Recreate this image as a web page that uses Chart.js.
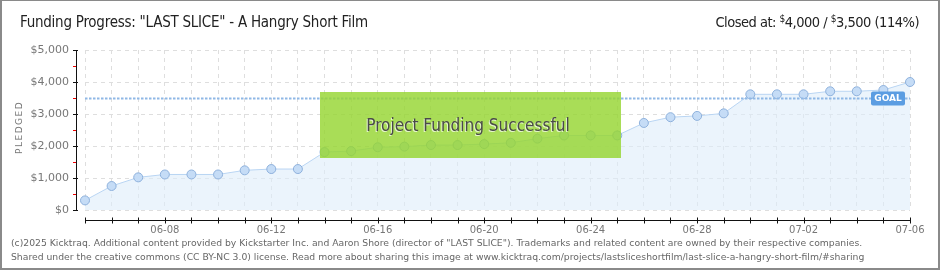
<!DOCTYPE html>
<html>
  <head>
    <title>Funding Progress</title>
    <script src="https://cdn.jsdelivr.net/npm/chart.js"></script>
    <style>
      body { margin: 0; background: #fff; }
      #wrap { position: relative; width: 940px; height: 270px; box-sizing: border-box; overflow: hidden;
              border-left: 2px solid #8a8a8a; border-top: 1px solid #8a8a8a; border-right: 2px solid #8a8a8a; border-bottom: 2px solid #8a8a8a; }
      canvas { position: absolute; left: -2px; top: -1px; }
      .txt { position: absolute; white-space: nowrap; color: #222; }
      #title { left: 18px; top: 12px; font: 15px "DejaVu Sans Condensed", sans-serif; letter-spacing: -0.25px; }
      #closed { right: 19px; top: 12px; font: 14.5px "DejaVu Sans Condensed", sans-serif; letter-spacing: -0.5px; }
      #closed sup { font-size: 10px; vertical-align: 5px; }
      #pledged { left: 12px; top: 153px; font: 9px "DejaVu Sans", sans-serif; color: #777; letter-spacing: 1.5px; transform: rotate(-90deg); transform-origin: left top; }
      .foot { left: 9px; font: 9.25px "DejaVu Sans", sans-serif; color: #666; }
    </style>
  </head>
  <body>
    <div id="wrap">
      <canvas id="funding-chart" width="940" height="270"></canvas>
      <div class="txt" id="title">Funding Progress: "LAST SLICE" - A Hangry Short Film</div>
      <div class="txt" id="closed">Closed at: <sup>$</sup>4,000 / <sup>$</sup>3,500 (114%)</div>
      <div class="txt" id="pledged">PLEDGED</div>
      <div class="txt foot" style="top:236px">(c)2025 Kicktraq. Additional content provided by Kickstarter Inc. and Aaron Shore (director of "LAST SLICE"). Trademarks and related content are owned by their respective companies.</div>
      <div class="txt foot" style="top:250px">Shared under the creative commons (CC BY-NC 3.0) license. Read more about sharing this image at www.kicktraq.com/projects/lastsliceshortfilm/last-slice-a-hangry-short-film/#sharing</div>
    </div>

    <script>
      // daily dates and pledged totals
      const days = ['06-05', '06-06', '06-07', '06-08', '06-09', '06-10', '06-11', '06-12', '06-13', '06-14',
                    '06-15', '06-16', '06-17', '06-18', '06-19', '06-20', '06-21', '06-22', '06-23', '06-24',
                    '06-25', '06-26', '06-27', '06-28', '06-29', '06-30', '07-01', '07-02', '07-03', '07-04',
                    '07-05', '07-06'];
      const pledged = [300, 750, 1020, 1110, 1110, 1110, 1240, 1280, 1280, 1810,
                       1840, 1960, 1980, 2030, 2030, 2060, 2100, 2230, 2330, 2330,
                       2330, 2720, 2900, 2940, 3020, 3615, 3615, 3615, 3710, 3710,
                       3750, 4000];
      const yTicks = [0, 1000, 2000, 3000, 4000, 5000];
      const goal = 3500;

      // axes drawn a little away from the plot, like the original
      const offsetAxes = {
        id: 'offsetAxes',
        afterDatasetsDraw(chart) {
          const ctx = chart.ctx;
          const a = chart.chartArea;
          const xs = chart.scales.x, ys = chart.scales.y;
          ctx.save();

          // goal line
          const gy = Math.round(ys.getPixelForValue(goal)) + 0.5;
          ctx.strokeStyle = '#8fb8e6';
          ctx.lineWidth = 2;
          ctx.setLineDash([2.5, 1.5]);
          ctx.beginPath();
          ctx.moveTo(a.left, gy);
          ctx.lineTo(a.right, gy);
          ctx.stroke();
          ctx.setLineDash([]);

          // goal badge
          ctx.fillStyle = '#5b9de2';
          ctx.beginPath();
          ctx.roundRect(a.right - 39, gy - 7, 34, 14, 2);
          ctx.fill();
          ctx.fillStyle = '#fff';
          ctx.font = 'bold 9px "DejaVu Sans"';
          ctx.textAlign = 'center';
          ctx.textBaseline = 'middle';
          ctx.fillText('GOAL', a.right - 22, gy + 0.5);

          // success box
          ctx.fillStyle = 'rgba(150, 214, 50, 0.82)';
          ctx.fillRect(320, 92, 301, 66);
          ctx.font = '17px "DejaVu Sans Condensed"';
          ctx.fillStyle = 'rgba(255,255,255,0.7)';
          ctx.fillText('Project Funding Successful', 467, 128);
          ctx.fillStyle = '#4a4a4a';
          ctx.fillText('Project Funding Successful', 468, 127);

          // y axis
          const ax = 76;
          ctx.strokeStyle = '#111';
          ctx.lineWidth = 1;
          ctx.beginPath();
          ctx.moveTo(ax + 0.5, a.top);
          ctx.lineTo(ax + 0.5, a.bottom + 1);
          yTicks.forEach(v => {
            const y = Math.round(ys.getPixelForValue(v)) + 0.5;
            ctx.moveTo(ax - 3, y);
            ctx.lineTo(ax + 2, y);
          });
          ctx.stroke();
          ctx.strokeStyle = '#e00';
          ctx.beginPath();
          yTicks.slice(1).forEach(v => {
            const y = Math.round(ys.getPixelForValue(v - 500)) + 0.5;
            ctx.moveTo(ax - 3, y);
            ctx.lineTo(ax, y);
          });
          ctx.stroke();

          // x axis
          const by = a.bottom + 10.5;
          ctx.strokeStyle = '#111';
          ctx.beginPath();
          ctx.moveTo(a.left, by);
          ctx.lineTo(a.right + 1, by);
          days.forEach((d, i) => {
            const x = Math.round(xs.getPixelForValue(i)) + 0.5;
            ctx.moveTo(x, by - 3);
            ctx.lineTo(x, by + 3);
          });
          ctx.stroke();
          ctx.restore();
        }
      };

      new Chart(document.getElementById('funding-chart'), {
        type: 'line',
        data: {
          labels: days,
          datasets: [{
            data: pledged,
            borderColor: '#b9d5f3',
            borderWidth: 1,
            backgroundColor: 'rgba(222, 236, 250, 0.6)',
            fill: 'origin',
            tension: 0,
            pointRadius: 4.5,
            pointBackgroundColor: '#c5dcf6',
            pointBorderColor: '#8eb1dc',
            pointBorderWidth: 1,
          }],
        },
        options: {
          responsive: false,
          animation: false,
          layout: { padding: { top: 50, right: 30, left: 0, bottom: 0 } },
          plugins: { legend: { display: false }, tooltip: { enabled: false } },
          scales: {
            x: {
              offset: false,
              afterFit: s => { s.height = 60; },
              grid: { color: '#dedede', drawTicks: false },
              border: { display: false, dash: [4, 4] },
              ticks: {
                autoSkip: false,
                maxRotation: 0,
                padding: 14,
                color: '#777',
                font: { family: 'DejaVu Sans', size: 10 },
                callback: (v, i) => (i % 4 === 3 ? days[i] : ''),
              },
            },
            y: {
              min: 0,
              max: 5000,
              afterFit: s => { s.width = 85; },
              grid: { color: '#dedede', drawTicks: false },
              border: { display: false, dash: [4, 4] },
              ticks: {
                stepSize: 1000,
                padding: 16,
                color: '#777',
                font: { family: 'DejaVu Sans', size: 11 },
                callback: v => '$' + v.toString().replace(/\B(?=(\d{3})+(?!\d))/g, ','),
              },
            },
          },
        },
        plugins: [offsetAxes],
      });
    </script>
  </body>
</html>
